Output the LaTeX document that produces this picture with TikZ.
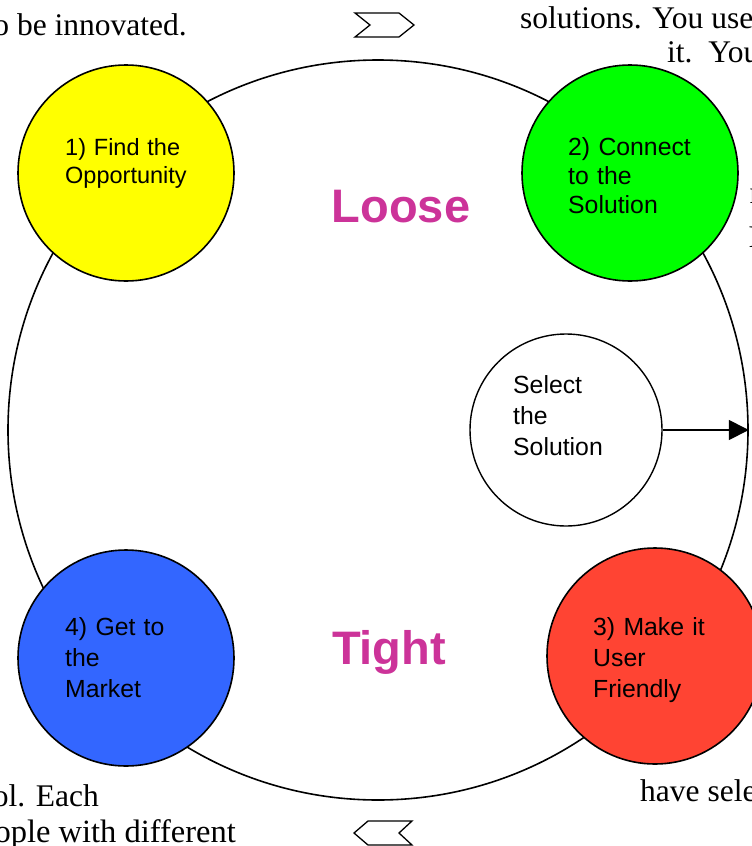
\documentclass[tikz,border=0pt]{standalone}
\usepackage{fontspec}
\setmainfont{Liberation Serif}
\newfontfamily\arialfont{Liberation Sans}
\usetikzlibrary{arrows.meta}
\definecolor{cyel}{HTML}{FFFF00}
\definecolor{cgreen}{HTML}{00FF00}
\definecolor{cblue}{HTML}{3366FF}
\definecolor{cred}{HTML}{FF4433}
\definecolor{cmag}{HTML}{CC3399}
\tikzset{
  bigring/.style={circle, draw=black, line width=1.6pt, minimum size=740pt, inner sep=0pt},
  stage/.style={circle, draw=black, line width=1.6pt, minimum size=216pt, inner sep=0pt},
  selectc/.style={circle, draw=black, fill=white, line width=1.4pt, minimum size=192pt, inner sep=0pt},
  ctext/.style={anchor=base west, inner sep=0pt, align=left, text width=180pt, font=\arialfont\fontsize{23.5}{27.5}\selectfont},
  ctextg/.style={ctext, font=\arialfont\fontsize{24.8}{29}\selectfont},
  ctextb/.style={ctext, font=\arialfont\fontsize{24.8}{31}\selectfont},
  bigword/.style={anchor=base, inner sep=0pt, text=cmag, font=\arialfont\bfseries\fontsize{47}{50}\selectfont},
  prose/.style={inner sep=0pt, font=\fontsize{31.5}{34}\selectfont},
  chev/.style={draw=black, line width=1.3pt, line join=miter},
  link/.style={draw=black, line width=1.4pt, -{Triangle[length=20pt,width=20pt]}}
}
\begin{document}
\begin{tikzpicture}[x=1pt,y=-1pt]
\clip (0,0) rectangle (752,846);
\useasboundingbox (0,0) rectangle (752,846);
% big ring
\node[bigring] (ring) at (378,430) {};
% stage circles
\node[stage, fill=cyel] (find) at (126,173) {};
\node[stage, fill=cgreen] (connect) at (630,173) {};
\node[stage, fill=cblue] (market) at (126,658) {};
\node[stage, fill=cred] (make) at (655,656) {};
\node[selectc] (select) at (566,430) {};
% circle texts
\node[ctext] (findt) at (65,155.5) {1) Find the\\Opportunity};
\node[ctextg] (connectt) at (568,155.5) {2) Connect\\to the\\Solution};
\node[ctextb] (selectt) at (513,393.5) {Select\\the\\Solution};
\node[ctextb] (markett) at (65,635.5) {4) Get to\\the\\Market};
\node[ctextb] (makett) at (593,635.5) {3) Make it\\User\\Friendly};
% big words
\node[bigword] (loose) at (401,222) {Loose};
\node[bigword] (tight) at (389,664) {Tight};
% arrow
\coordinate (ringE) at (ring.east);
\draw[link] (select.east) -- (ringE);
% chevrons
\draw[chev] (355,13) -- (399,13) -- (414,25) -- (399,37) -- (355,37) -- (370,25) -- cycle;
\draw[chev] (368,821) -- (412,821) -- (399,833) -- (412,845) -- (368,845) -- (354,833) -- cycle;
% surrounding prose fragments
\node[prose, anchor=base east] (p1) at (187,35) {to be innovated.};
\node[prose, anchor=base west] (p2) at (520,28) {solutions. You use};
\node[prose, anchor=base west] (p3) at (667,62) {it.\ \ You};
\node[prose, anchor=base west] (p4) at (749.5,203) {n};
\node[prose, anchor=base west] (p5) at (748.5,247) {P};
\node[prose, anchor=base east] (p6) at (99,806) {tool. Each};
\node[prose, anchor=base east, font=\fontsize{32.5}{34}\selectfont] (p7) at (236,842) {people with different};
\node[prose, anchor=base west] (p8) at (640,801) {have selected};
\end{tikzpicture}
\end{document}
